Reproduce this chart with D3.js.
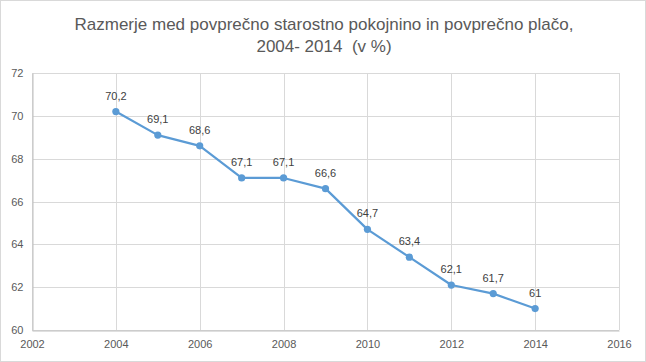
<!DOCTYPE html>
<html lang="sl">
<head>
<meta charset="UTF-8">
<title>Razmerje pokojnina / plača</title>
<style>
  body { margin: 0; padding: 0; background: #fff; }
  svg { display: block; font-family: "Liberation Sans", Arial, sans-serif; }
  .title { white-space: pre; }
</style>
</head>
<body>
<svg width="646" height="362"></svg>
<script src="https://d3js.org/d3.v7.min.js"></script>
<script>
const years = [2004, 2005, 2006, 2007, 2008, 2009, 2010, 2011, 2012, 2013, 2014];
const values = [70.2, 69.1, 68.6, 67.1, 67.1, 66.6, 64.7, 63.4, 62.1, 61.7, 61];
const labels = ["70,2", "69,1", "68,6", "67,1", "67,1", "66,6", "64,7", "63,4", "62,1", "61,7", "61"];
const xTicks = [2002, 2004, 2006, 2008, 2010, 2012, 2014, 2016];
const yTicks = [60, 62, 64, 66, 68, 70, 72];
const titleLines = ["Razmerje med povprečno starostno pokojnino in povprečno plačo,", "2004- 2014  (v %)"];

const svg = d3.select("svg");
const W = 646, H = 362;
const margin = {top: 73, right: 27, bottom: 32, left: 32};

// chart border
svg.append("rect")
  .attr("x", 0.5).attr("y", 0.5)
  .attr("width", W - 1).attr("height", H - 1)
  .attr("fill", "#fff").attr("stroke", "#d9d9d9");

const x = d3.scaleLinear().domain([2002, 2016]).range([margin.left, W - margin.right]);
const y = d3.scaleLinear().domain([60, 72]).range([H - margin.bottom, margin.top]);

// title
svg.append("g").selectAll("text")
  .data(titleLines).join("text")
  .attr("class", "title")
  .attr("x", W / 2 + 1)
  .attr("y", (d, i) => 30 + i * 22)
  .attr("text-anchor", "middle")
  .attr("font-size", 17)
  .attr("fill", "#595959")
  .text(d => d);

// gridlines
const grid = svg.append("g").attr("stroke", "#d9d9d9").attr("stroke-width", 1);
grid.selectAll("line.h").data(yTicks).join("line")
  .attr("class", "h")
  .attr("x1", x(2002)).attr("x2", x(2016))
  .attr("y1", d => Math.round(y(d)) + 0.5).attr("y2", d => Math.round(y(d)) + 0.5);
grid.selectAll("line.v").data(xTicks).join("line")
  .attr("class", "v")
  .attr("y1", y(60)).attr("y2", y(72))
  .attr("x1", d => Math.round(x(d)) + 0.5).attr("x2", d => Math.round(x(d)) + 0.5);

// axes
const xAxis = svg.append("g")
  .attr("transform", `translate(0,${Math.round(y(60)) + 0.5})`)
  .call(d3.axisBottom(x).tickValues(xTicks).tickFormat(d3.format("d")).tickSize(0).tickPadding(10));
const yAxis = svg.append("g")
  .attr("transform", `translate(${Math.round(x(2002)) + 0.5},0)`)
  .call(d3.axisLeft(y).tickValues(yTicks).tickSize(0).tickPadding(9));
[xAxis, yAxis].forEach(a => {
  a.select(".domain").attr("stroke", "#bfbfbf");
  a.selectAll("text").attr("font-size", 11).attr("fill", "#595959")
    .attr("font-family", "'Liberation Sans', Arial, sans-serif");
});

// line
const line = d3.line().x((d, i) => x(years[i])).y(d => y(d));
svg.append("path")
  .datum(values)
  .attr("fill", "none")
  .attr("stroke", "#5b9bd5")
  .attr("stroke-width", 2.2)
  .attr("stroke-linejoin", "round")
  .attr("d", line);

svg.append("g").selectAll("circle")
  .data(values).join("circle")
  .attr("cx", (d, i) => x(years[i]))
  .attr("cy", d => y(d))
  .attr("r", 3.6)
  .attr("fill", "#5b9bd5");

// data labels
svg.append("g").selectAll("text")
  .data(values).join("text")
  .attr("x", (d, i) => x(years[i]))
  .attr("y", d => y(d) - 12)
  .attr("text-anchor", "middle")
  .attr("font-size", 11)
  .attr("fill", "#404040")
  .text((d, i) => labels[i]);
</script>
</body>
</html>
